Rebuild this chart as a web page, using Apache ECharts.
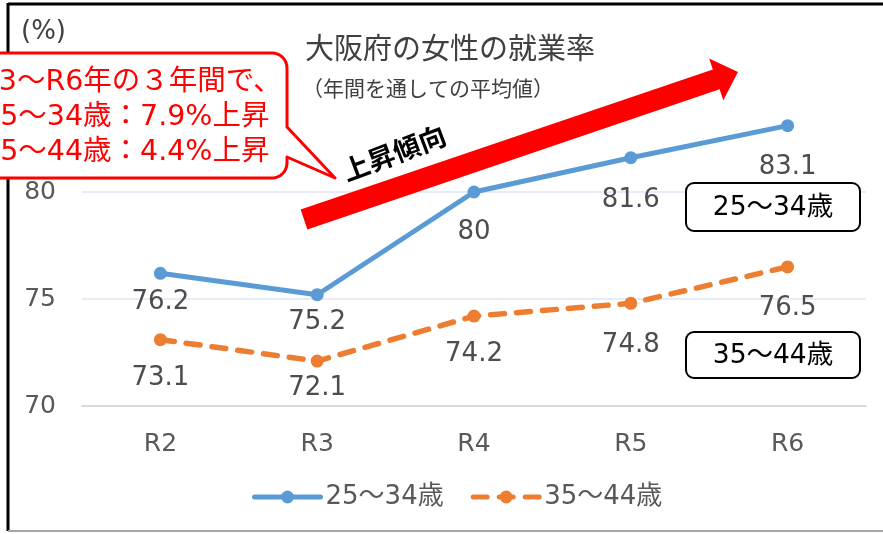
<!DOCTYPE html>
<html>
<head>
<meta charset="utf-8">
<script src="https://cdn.jsdelivr.net/npm/echarts@6/dist/echarts.min.js"></script>
<style>
  html, body { margin: 0; padding: 0; background: #fff; }
  #chart { width: 883px; height: 534px; }
</style>
</head>
<body>
<div id="chart"></div>
<script>
// 大阪府の女性の就業率（年間を通しての平均値）
const categories = ['R2', 'R3', 'R4', 'R5', 'R6'];
const seriesNames = ['25～34歳', '35～44歳'];
const age25to34 = [76.2, 75.2, 80, 81.6, 83.1];
const age35to44 = [73.1, 72.1, 74.2, 74.8, 76.5];
const yTicks = { min: 70, max: 85, interval: 5 };

const JP = '"DejaVu Sans", "Noto Sans CJK JP", sans-serif';
const JPONLY = '"Noto Sans CJK JP", sans-serif';
const BLUE = '#5B9BD5';
const ORANGE = '#ED7D31';

const chart = echarts.init(document.getElementById('chart'), null, { renderer: 'canvas' });

// red upward trend arrow, built along its centre line
function arrowPoints(tail, tip, halfBand, headLen, halfHead) {
  const dx = tip[0] - tail[0], dy = tip[1] - tail[1];
  const len = Math.hypot(dx, dy);
  const ux = dx / len, uy = dy / len;
  const nx = -uy, ny = ux;
  const bx = tip[0] - ux * headLen, by = tip[1] - uy * headLen;
  return [
    [tail[0] + nx * halfBand, tail[1] + ny * halfBand],
    [bx + nx * halfBand, by + ny * halfBand],
    [bx + nx * halfHead, by + ny * halfHead],
    tip,
    [bx - nx * halfHead, by - ny * halfHead],
    [bx - nx * halfBand, by - ny * halfBand],
    [tail[0] - nx * halfBand, tail[1] - ny * halfBand]
  ];
}

// quarter-circle corner as a run of points
function corner(cx, cy, r, a0, a1) {
  const pts = [];
  for (let i = 0; i <= 8; i++) {
    const a = a0 + (a1 - a0) * i / 8;
    pts.push([cx + r * Math.cos(a), cy + r * Math.sin(a)]);
  }
  return pts;
}

// speech bubble: rounded box whose right side points down to the arrow
function calloutPoints(x0, y0, x1, y1, r, tailTop, tip, tailBottom) {
  const P = Math.PI;
  return [
    [x0, y0],
    ...corner(x1 - r, y0 + r, r, -P / 2, 0),
    [x1, tailTop],
    tip,
    [x1, tailBottom],
    ...corner(x1 - r, y1 - r, r, 0, P / 2),
    [x0, y1]
  ];
}

// value labels sit under each point; some are pushed a little further down
function withLabels(values, gaps) {
  return values.map((v, i) => ({ value: v, label: { distance: gaps[i] } }));
}

const labelStyle = {
  show: true,
  position: 'bottom',
  color: '#4d4d4d',
  fontSize: 26,
  fontFamily: JP
};

const option = {
  animation: false,
  backgroundColor: '#ffffff',
  grid: { left: 82, right: 17, top: 85, bottom: 128 },
  xAxis: {
    type: 'category',
    data: categories,
    boundaryGap: true,
    axisLine: { show: true, lineStyle: { color: '#D9D9D9', width: 2 } },
    axisTick: { show: false },
    axisLabel: { color: '#595959', fontSize: 25, fontFamily: JP, margin: 26 },
    splitLine: { show: false }
  },
  yAxis: {
    type: 'value',
    min: yTicks.min,
    max: yTicks.max,
    interval: yTicks.interval,
    axisLine: { show: false },
    axisTick: { show: false },
    axisLabel: { color: '#595959', fontSize: 25, fontFamily: JP, margin: 26,
      formatter: v => (v === yTicks.max ? '' : String(v)) },
    splitLine: { show: true, showMaxLine: false, lineStyle: { color: '#DCE6F4', width: 1.5 } }
  },
  legend: {
    left: 247,
    top: 479,
    itemWidth: 66,
    itemHeight: 16,
    itemGap: 27,
    lineStyle: { width: 5 },
    textStyle: { color: '#595959', fontSize: 26, fontFamily: JP },
    data: seriesNames
  },
  series: [
    {
      name: seriesNames[0],
      type: 'line',
      data: withLabels(age25to34, [9, 8, 21, 23, 22]),
      symbol: 'circle',
      symbolSize: 13,
      itemStyle: { color: BLUE },
      lineStyle: { color: BLUE, width: 5, cap: 'round', join: 'round' },
      label: labelStyle,
      z: 3
    },
    {
      name: seriesNames[1],
      type: 'line',
      data: withLabels(age35to44, [19, 8, 19, 22, 22]),
      symbol: 'circle',
      symbolSize: 13,
      itemStyle: { color: ORANGE },
      lineStyle: { color: ORANGE, width: 5.5, type: [14, 12], cap: 'round', join: 'round' },
      label: labelStyle,
      z: 3
    }
  ],
  graphic: [
    // outer frame
    { type: 'line', shape: { x1: 8, y1: 4, x2: 883, y2: 4 }, style: { stroke: '#000', lineWidth: 3 }, z: 1 },
    { type: 'line', shape: { x1: 8, y1: 3, x2: 8, y2: 531 }, style: { stroke: '#000', lineWidth: 3 }, z: 1 },
    { type: 'line', shape: { x1: 8, y1: 531, x2: 883, y2: 531 }, style: { stroke: '#A6A6A6', lineWidth: 2 }, z: 1 },
    // unit
    { type: 'text', x: 21, y: 32, style: { text: '(%)', fill: '#404040', font: '26px ' + JP, verticalAlign: 'middle' }, z: 5 },
    // title
    { type: 'text', x: 305, y: 48, style: { text: '大阪府の女性の就業率', fill: '#404040', font: '29px ' + JPONLY, verticalAlign: 'middle' }, z: 5 },
    { type: 'text', x: 302, y: 88, style: { text: '（年間を通しての平均値）', fill: '#404040', font: '21px ' + JPONLY, verticalAlign: 'middle' }, z: 5 },
    // trend arrow
    { type: 'polygon', shape: { points: arrowPoints([304, 219.5], [738, 72], 10.5, 23, 22) }, style: { fill: '#FF0000' }, z: 4 },
    { type: 'text', x: 394, y: 153, rotation: 0.36,
      style: { text: '上昇傾向', fill: '#000', font: 'bold 27px ' + JPONLY, align: 'center', verticalAlign: 'middle' }, z: 5 },
    // callout with tail
    { type: 'polygon', shape: { points: calloutPoints(-20, 53, 287, 178, 15, 127, [335, 178], 157) },
      style: { fill: '#fff', stroke: '#FF0000', lineWidth: 3, lineJoin: 'round' }, z: 6 },
    { type: 'text', x: -21, y: 83, style: { text: 'R3～R6年の３年間で、', fill: '#FF0000', font: '28.5px ' + JP, verticalAlign: 'middle' }, z: 7 },
    { type: 'text', x: -18, y: 118, style: { text: '25～34歳：7.9%上昇', fill: '#FF0000', font: '28.5px ' + JP, verticalAlign: 'middle' }, z: 7 },
    { type: 'text', x: -18, y: 153, style: { text: '35～44歳：4.4%上昇', fill: '#FF0000', font: '28.5px ' + JP, verticalAlign: 'middle' }, z: 7 },
    // series name boxes
    { type: 'rect', shape: { x: 686, y: 183, width: 174, height: 48, r: 8 }, style: { fill: '#fff', stroke: '#000', lineWidth: 2 }, z: 5 },
    { type: 'text', x: 773, y: 208, style: { text: '25～34歳', fill: '#000', font: '26.5px ' + JP, align: 'center', verticalAlign: 'middle' }, z: 6 },
    { type: 'rect', shape: { x: 686, y: 332, width: 174, height: 46, r: 8 }, style: { fill: '#fff', stroke: '#000', lineWidth: 2 }, z: 5 },
    { type: 'text', x: 773, y: 356, style: { text: '35～44歳', fill: '#000', font: '26.5px ' + JP, align: 'center', verticalAlign: 'middle' }, z: 6 }
  ]
};

chart.setOption(option);
</script>
</body>
</html>
